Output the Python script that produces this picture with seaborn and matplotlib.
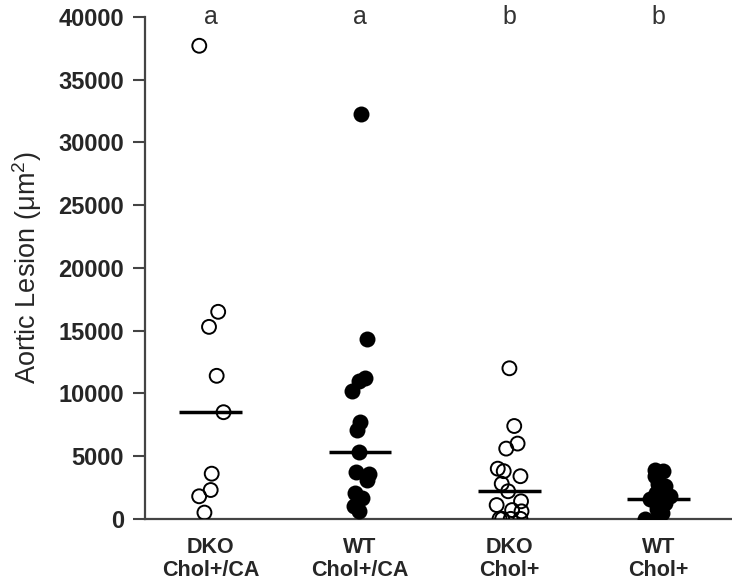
import numpy as np
import pandas as pd
import seaborn as sns
import matplotlib.pyplot as plt

# groups, as shown on the x axis
groups = ['DKO\nChol+/CA', 'WT\nChol+/CA', 'DKO\nChol+', 'WT\nChol+']
letters = ['a', 'a', 'b', 'b']

# aortic lesion area per mouse (um^2)
dko_chol_ca = [37700, 16500, 15300, 11400, 8500, 3600, 2300, 1800, 500]
wt_chol_ca = [32300, 14300, 11200, 11000, 10200, 7700, 7100, 5300,
              3700, 3600, 3100, 2100, 1650, 1050, 600]
dko_chol = [12000, 7400, 6000, 5600, 4000, 3800, 3400, 2800, 2200,
            1400, 1100, 700, 600, 0, 0, 0, 0]
wt_chol = [3900, 3800, 3400, 2800, 2600, 2100, 1800, 1600, 1300,
           1100, 800, 500, 200, 0, 0]

values = [dko_chol_ca, wt_chol_ca, dko_chol, wt_chol]
df = pd.DataFrame({
    'group': np.repeat(groups, [len(v) for v in values]),
    'lesion': np.concatenate(values),
})
open_groups = [groups[0], groups[2]]

sns.set_style('ticks')
plt.rcParams['font.family'] = ['Liberation Sans', 'DejaVu Sans']
plt.rcParams['mathtext.default'] = 'regular'

fig = plt.figure(figsize=(7.32, 5.83), dpi=100)
ax = fig.add_axes([0.198, 0.11, 0.802, 0.861])

np.random.seed(7)
# open circles (DKO)
sns.stripplot(data=df[df.group.isin(open_groups)], x='group', y='lesion',
              order=groups, color='white', edgecolor='black', linewidth=1.4,
              size=10, jitter=0.09, ax=ax)
for coll in ax.collections:
    coll.set_facecolor('none')
    coll.set_edgecolor('black')

# filled circles (WT)
sns.stripplot(data=df[~df.group.isin(open_groups)], x='group', y='lesion',
              order=groups, color='black', edgecolor='black', linewidth=0,
              size=11.5, jitter=0.09, ax=ax)

# median bars
sns.boxplot(data=df, x='group', y='lesion', order=groups, whis=0,
            showbox=False, showcaps=False, showfliers=False,
            whiskerprops={'visible': False},
            medianprops={'color': 'black', 'linewidth': 2.5},
            width=0.42, ax=ax)

for i, lt in enumerate(letters):
    ax.text(i, 40000, lt, ha='center', va='center', fontsize=18,
            color='#333333', clip_on=False)

ax.set_xlim(-0.44, 3.49)
ax.set_ylim(0, 40000)
ax.set_yticks(range(0, 40001, 5000))
ax.set_xlabel('')
ax.set_ylabel('Aortic Lesion (μm$^2$)', fontsize=19.5, labelpad=10)

for s in ['top', 'right']:
    ax.spines[s].set_visible(False)
for s in ['left', 'bottom']:
    ax.spines[s].set_color('#444444')
    ax.spines[s].set_linewidth(1.6)

ax.tick_params(axis='y', length=9, width=1.5, color='#444444',
               labelsize=17, pad=6)
ax.tick_params(axis='x', length=0, labelsize=15.5, pad=13)
for lab in ax.get_yticklabels() + ax.get_xticklabels():
    lab.set_fontweight('bold')
for lab in ax.get_xticklabels():
    lab.set_linespacing(1.1)

fig.savefig('out.png', dpi=100)
